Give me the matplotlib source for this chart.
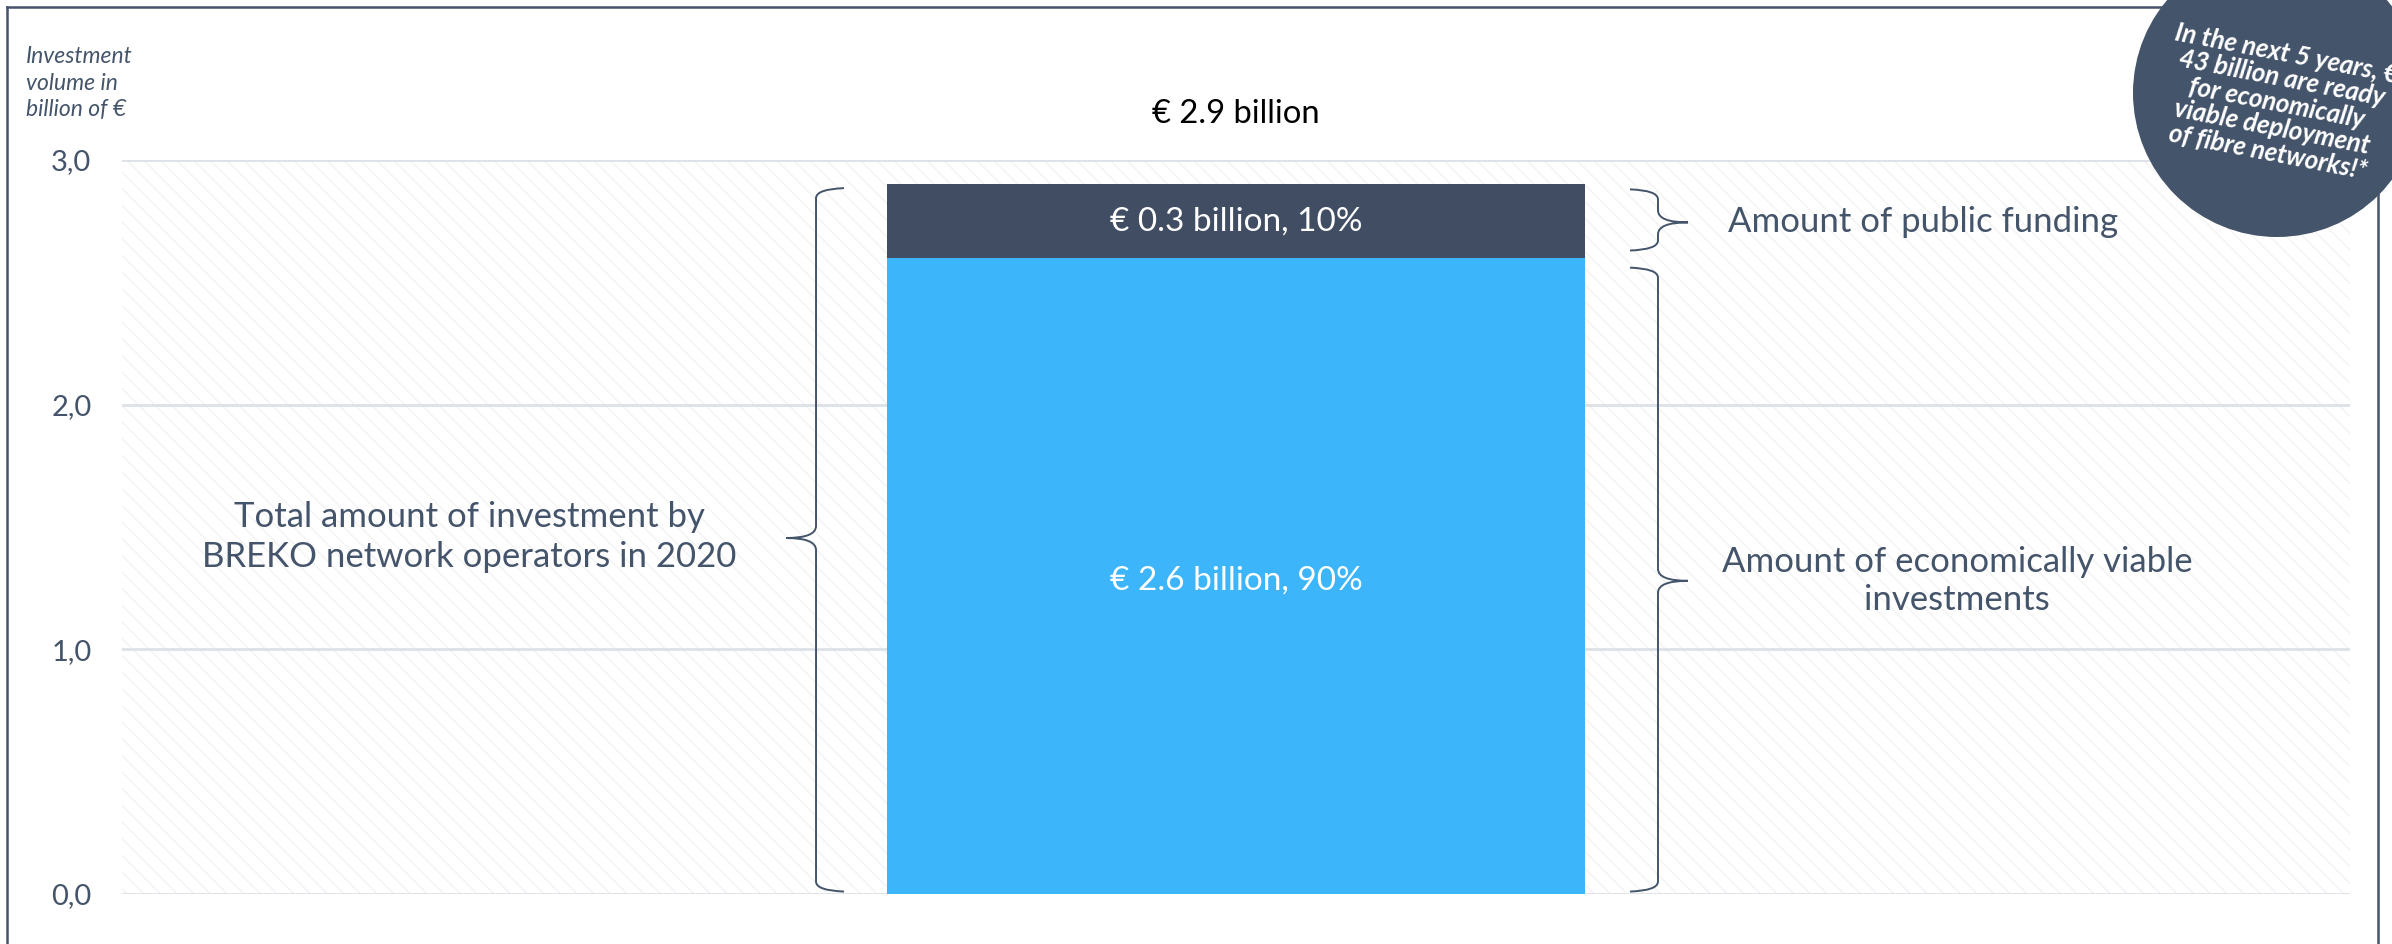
import matplotlib
matplotlib.use("Agg")
import matplotlib.pyplot as plt
from matplotlib.path import Path
from matplotlib.patches import PathPatch, Circle
from matplotlib.lines import Line2D
from matplotlib.transforms import IdentityTransform

# ── Data ───────────────────────────────────────────────────────────────────────
category = ["2020"]
viable = [2.6]          # economically viable investments, bn €
public = [0.3]          # public funding, bn €
total = [2.9]
viable_label = "€ 2.6 billion, 90%"
public_label = "€ 0.3 billion, 10%"
total_label = "€ 2.9 billion"
yticks = [0, 1, 2, 3]
ytick_labels = ["0,0", "1,0", "2,0", "3,0"]

SLATE = "#44546A"
DARK_BAR = "#414D63"
BLUE = "#3DB5FA"
GRID = "#DDE1E8"

plt.rcParams["font.family"] = ["Lato", "DejaVu Sans"]
plt.rcParams["hatch.linewidth"] = 1.0

W, H = 2392, 944
fig = plt.figure(figsize=(W / 100, H / 100), dpi=100)
ax = fig.add_axes([122 / W, (H - 894) / H, 2228 / W, 734 / H])
ax.set_xlim(-0.5, 0.5)
ax.set_ylim(0, 3)

# hatched background
ax.patch.set_facecolor("white")
ax.fill_between([-0.5, 0.5], 0, 3, facecolor="white", edgecolor="#F3F3F3",
                hatch="\\\\", linewidth=0, zorder=0)
for y in yticks:
    ax.axhline(y, color=GRID, linewidth=2, zorder=1)

bar_w = 0.3137
ax.bar(0, viable, width=bar_w, color=BLUE, zorder=3)
ax.bar(0, public, width=bar_w, bottom=viable, color=DARK_BAR, zorder=3)

ax.text(0, viable[0] / 2 - 0.02, viable_label, ha="center", va="center",
        color="white", fontsize=24, zorder=4)
ax.text(0, viable[0] + public[0] / 2, public_label, ha="center", va="center",
        color="white", fontsize=24, zorder=4)
ax.text(0, 3.19, total_label, ha="center", va="center", color="black",
        fontsize=23.6, clip_on=False)

for s in ax.spines.values():
    s.set_visible(False)
ax.set_xticks([])
ax.set_yticks(yticks)
ax.set_yticklabels(ytick_labels, fontsize=21, color=SLATE)
ax.tick_params(axis="y", length=0, pad=22)

fig.text(26 / W, 1 - 83 / H, "Investment\nvolume in\nbillion of €", ha="left",
         va="center", fontsize=16.5, style="italic", color=SLATE, linespacing=1.3)


# ── Curly braces ───────────────────────────────────────────────────────────────
PX_X = 2228.0   # px per x data unit
PX_Y = 734 / 3  # px per y data unit


def brace(x0, ybot, ytop, ytip, direction):
    """direction=-1: tip points left, +1: tip points right."""
    h = -direction * 28 / PX_X      # hook length (towards the bar)
    r = 10 / PX_Y
    t = direction * 30 / PX_X
    c = 12 / PX_Y
    verts = [
        (x0 + h, ytop),
        (x0, ytop - 1 / PX_Y), (x0, ytop - r),
        (x0, ytip + c),
        (x0, ytip), (x0 + t, ytip),
        (x0, ytip), (x0, ytip - c),
        (x0, ybot + r),
        (x0, ybot + 1 / PX_Y), (x0 + h, ybot),
    ]
    codes = [Path.MOVETO, Path.CURVE3, Path.CURVE3, Path.LINETO,
             Path.CURVE3, Path.CURVE3, Path.CURVE3, Path.CURVE3,
             Path.LINETO, Path.CURVE3, Path.CURVE3]
    ax.add_patch(PathPatch(Path(verts, codes), fill=False, edgecolor=SLATE,
                           linewidth=1.4, zorder=5, clip_on=False))


brace(-0.1885, 0.01, total[0] - 0.015, 1.455, -1)
brace(0.1894, viable[0] + 0.03, total[0] - 0.02, 2.745, +1)
brace(0.1894, 0.01, viable[0] - 0.04, 1.28, +1)

ax.text(-0.344, 1.46, "Total amount of investment by\nBREKO network operators in 2020",
        ha="center", va="center", fontsize=25, color=SLATE, linespacing=1.3)
ax.text(0.2208, 2.745, "Amount of public funding", ha="left", va="center",
        fontsize=25, color=SLATE)
ax.text(0.3236, 1.28, "Amount of economically viable\ninvestments", ha="center",
        va="center", fontsize=25, color=SLATE, linespacing=1.25)

# ── Frame and badge ────────────────────────────────────────────────────────────
for xs, ys in [([7, 7], [0, H - 7]), ([7, 2300], [H - 7, H - 7]), ([2378, 2378], [0, H - 7])]:
    fig.add_artist(Line2D([x / W for x in xs], [y / H for y in ys],
                          color=SLATE, linewidth=1.8, zorder=6))

fig.add_artist(Circle((2277, H - 93), 144, transform=IdentityTransform(),
                      facecolor=SLATE, edgecolor="none", zorder=8))
fig.text(2277 / W, 1 - 103 / H,
         "In the next 5 years, €\n43 billion are ready\nfor economically\n"
         "viable deployment\nof fibre networks!*",
         ha="center", va="center", rotation=-11, rotation_mode="anchor",
         fontsize=18.5, fontweight="bold", style="italic", color="white",
         linespacing=1.05, zorder=9)

fig.savefig("out.png", dpi=100)
